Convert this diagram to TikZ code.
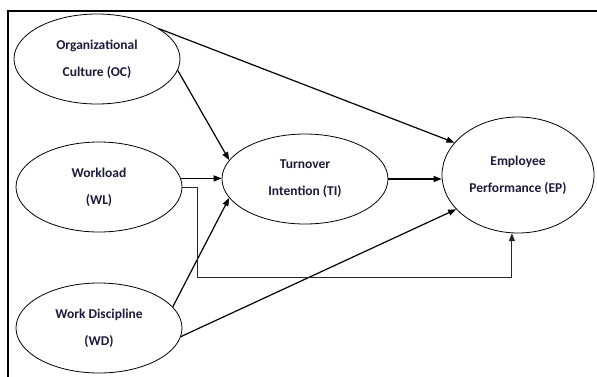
\documentclass[tikz,border=0pt]{standalone}
\usepackage{fontspec}
\setmainfont{Carlito}
\usepackage{tikz}
\usetikzlibrary{arrows.meta, positioning, calc, shapes.geometric}
\definecolor{inkblue}{RGB}{28,28,58}
\tikzset{
  construct/.style={
    ellipse, draw=black, line width=0.8pt, fill=white,
    minimum width=166pt, minimum height=90pt, inner sep=0pt,
    align=center, font=\bfseries\fontsize{13.5}{27}\selectfont, text=inkblue
  },
  path/.style={-{Triangle[length=8pt,width=6pt]}, line width=1.2pt, color=black},
  elbow/.style={-{Triangle[length=8pt,width=6pt]}, line width=1pt, color=black!85}
}
\begin{document}
\begin{tikzpicture}[x=1pt, y=-1pt]
  \useasboundingbox (0,0) rectangle (597,376);
  % frame
  \draw[line width=1.5pt] (8,390) -- (8,11) -- (610,11);

  % constructs
  \node[construct] (oc) at (97,59)  {Organizational\\Culture (OC)};
  \node[construct] (wl) at (99,187) {Workload\\(WL)};
  \node[construct] (wd) at (99,328) {Work Discipline\\(WD)};
  \node[construct] (ti) at (305,179) {Turnover\\Intention (TI)};
  \node[construct, minimum width=152pt, minimum height=116pt] (ep)
    at (518,175) {Employee\\Performance (EP)};

  % paths
  \draw[path] (oc.26)  -- (ep.153);
  \draw[path] (oc.352) -- (ti.166);
  \draw[path] (wl.6)   -- (wl.6 -| ti.west);
  \draw[path] (wd.16)  -- (ti.194);
  \draw[path] (wd.354) -- (ep.209);
  \draw[path] (ti.east) -- (ti.east -| ep.west);

  \coordinate (bend) at (197,277);
  \draw[elbow] (wl.east) -| (bend) -| (ep.264);
\end{tikzpicture}
\end{document}
